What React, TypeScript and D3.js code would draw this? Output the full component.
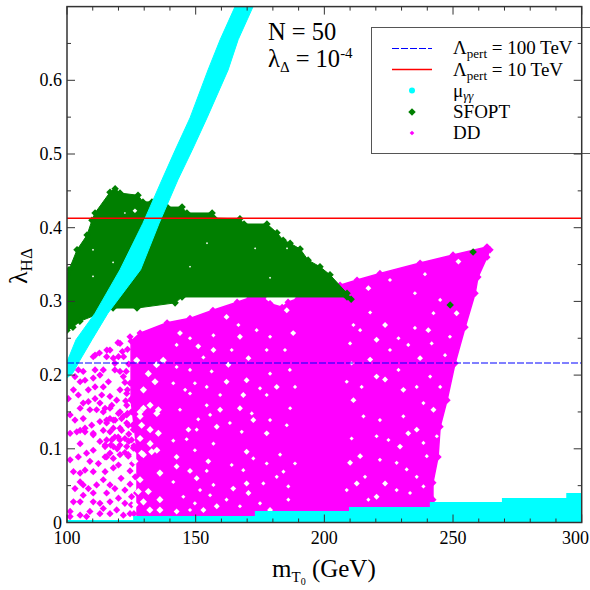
import React from "react";
import * as d3 from "d3";

type P = [number, number];

const xTicksMajor = [100, 150, 200, 250, 300];
const yTicksMajor = [0, 0.1, 0.2, 0.3, 0.4, 0.5, 0.6];
const xTicksMinor = d3.range(100, 301, 10);
const yTicksMinor = [0.05, 0.15, 0.25, 0.35, 0.45, 0.55, 0.65];
const lambda100TeV = 0.2164;
const lambda10TeV = 0.4127;

const sfoptRegion: P[] = [
  [100, 0.261], [100, 0.336], [100.8, 0.343], [103.9, 0.37], [107.8, 0.39], [109.7, 0.41], [110.9, 0.42], [116.7, 0.448], [118.7, 0.453],
  [120.6, 0.447], [127.6, 0.444], [129.5, 0.435], [133, 0.435], [138.9, 0.428], [144.7, 0.428], [146.6, 0.42],
  [156.4, 0.42], [157.1, 0.413], [167.2, 0.412], [168.8, 0.405], [177.7, 0.405], [181.6, 0.393], [184, 0.383],
  [186.7, 0.379], [190.6, 0.371], [193.7, 0.356], [198.3, 0.347], [202.2, 0.336], [208.8, 0.311], [208.8, 0.306],
  [144.7, 0.306], [142, 0.298], [127.2, 0.291], [117.9, 0.291], [105, 0.273], [102.3, 0.265],
];
const sfoptPoints: P[] = [[207.3, 0.311], [210.4, 0.303], [248.9, 0.295], [257.8, 0.367]];
const sfoptGaps: P[] = [
  [126.4, 0.423], [122.5, 0.42], [110.1, 0.334], [110.1, 0.37], [178.9, 0.332], [147.8, 0.347], [154.4, 0.379],
  [185.5, 0.372], [173.1, 0.372], [117.9, 0.353],
];

const muBand: P[] = [
  [100, 0.196], [100, 0.218], [103.5, 0.248], [110.9, 0.284], [120.6, 0.343], [129.5, 0.406], [136.9, 0.465],
  [142, 0.505], [147.8, 0.549], [154.8, 0.614], [159.5, 0.655], [165.3, 0.7], [172.3, 0.7], [166.5, 0.655],
  [162.6, 0.614], [154.4, 0.549], [148.6, 0.505], [143.1, 0.465], [135.8, 0.406], [128.6, 0.343], [115.9, 0.284],
  [109.7, 0.248], [105, 0.22], [102.3, 0.203],
];
const muFloor: P[] = [
  [100, 0.0034], [125.7, 0.0088], [173, 0.0156], [209.6, 0.021], [241, 0.0278], [269, 0.0332], [294, 0.04], [300, 0.04],
];

const ddRegion: P[] = [
  [124.9, 0.246], [128.4, 0.257], [138.9, 0.271], [147.8, 0.277], [156.7, 0.288], [166.1, 0.299], [171.1, 0.305],
  [176.2, 0.305], [178.9, 0.297], [183.6, 0.292], [185.9, 0.299], [189.8, 0.304], [206.1, 0.322], [212.7, 0.329],
  [221.6, 0.338], [237.2, 0.352], [250, 0.363], [263.2, 0.374], [264.4, 0.37], [263.2, 0.36], [259.7, 0.333],
  [258.6, 0.311], [254.7, 0.265], [250.8, 0.216], [247.7, 0.166], [245, 0.13], [244.2, 0.089], [242.2, 0.054],
  [242.2, 0.031], [240.3, 0.021], [240.3, 0.003], [127.2, 0.003], [127.2, 0.098], [124.9, 0.166],
];
const ddPoints: P[] = [
  [110.9, 0.227], [115.5, 0.234], [119.8, 0.244], [124.5, 0.252],
  [110.2, 0.225], [112.6, 0.23], [115.4, 0.225], [118, 0.223], [116.7, 0.234], [120.6, 0.243], [118.6, 0.216],
  [114.1, 0.207], [110.9, 0.207], [106.3, 0.205], [104.4, 0.207], [103.1, 0.198], [105.1, 0.191], [107, 0.193],
  [110.2, 0.196], [112.8, 0.2], [116.1, 0.191], [118.6, 0.207], [120.6, 0.205], [108.3, 0.18], [104.4, 0.173],
  [102.5, 0.18], [100.5, 0.168], [110.9, 0.184], [114.1, 0.184], [113.5, 0.173], [116.7, 0.171], [110.9, 0.168],
  [108.3, 0.164], [106.3, 0.162], [112.8, 0.162], [105.1, 0.155], [108.9, 0.153], [111.5, 0.153], [114.1, 0.15],
  [116.7, 0.155], [103.1, 0.139], [106.3, 0.141], [101.2, 0.146], [107, 0.128], [105.1, 0.125], [109.6, 0.132],
  [112.8, 0.137], [115.4, 0.139], [118, 0.139], [120, 0.148], [121.9, 0.144], [114.1, 0.125], [116.7, 0.123],
  [101.2, 0.121], [110.2, 0.119], [118.6, 0.116], [121.2, 0.125], [123.2, 0.135], [121.9, 0.198], [124.5, 0.189],
  [123.2, 0.175], [120.6, 0.18], [119.3, 0.166], [123.2, 0.159], [125.1, 0.168], [127.7, 0.159],
  [103.8, 0.123], [107, 0.123], [110.2, 0.121], [112.8, 0.11], [105.1, 0.107], [114.8, 0.103], [110.2, 0.098],
  [107.6, 0.094], [104.4, 0.089], [101.2, 0.085], [108.9, 0.083], [112.2, 0.08], [115.4, 0.089], [118, 0.087],
  [102.5, 0.069], [105.1, 0.067], [107, 0.071], [110.2, 0.069], [114.8, 0.069], [118, 0.074], [120, 0.078],
  [105.1, 0.055], [103.1, 0.046], [106.3, 0.051], [114.1, 0.058], [111.5, 0.051], [108.3, 0.046], [116.7, 0.051],
  [110.2, 0.04], [115.4, 0.04], [118.6, 0.046], [102.5, 0.028], [106.3, 0.037], [105.1, 0.028], [112.8, 0.026],
  [110.2, 0.028], [116.7, 0.028], [114.1, 0.019], [120, 0.033], [108.9, 0.015], [105.1, 0.01], [112.8, 0.012],
  [101.2, 0.015], [101.2, 0.008], [107.6, 0.008], [116.7, 0.012], [119.3, 0.017], [122.5, 0.044], [122.5, 0.026],
  [121.9, 0.01], [124.5, 0.012], [125.1, 0.035], [122.5, 0.095], [124, 0.11], [121, 0.06], [124.5, 0.07],
  [126, 0.012], [125, 0.024], [127, 0.04], [124.5, 0.052], [126.5, 0.062], [125.5, 0.08], [123.8, 0.09], [126, 0.104],
  [124, 0.12], [125.5, 0.132], [123.5, 0.148], [125, 0.15], [122.8, 0.165], [123.5, 0.18], [122.5, 0.19], [123, 0.205],
  [124, 0.215], [122, 0.225], [123.5, 0.235], [121.5, 0.232], [120, 0.225], [119.5, 0.1], [117, 0.105], [120.5, 0.112],
  [114.8, 0.155], [117.4, 0.159], [120.6, 0.15], [123.2, 0.146], [125.8, 0.15], [116.7, 0.141], [115.4, 0.135],
  [118.7, 0.139], [121.2, 0.141], [118, 0.128], [120.6, 0.128], [123.8, 0.132], [125.8, 0.126], [115.4, 0.112],
  [117.4, 0.112], [119.9, 0.116], [122.5, 0.114], [125.1, 0.112], [114.8, 0.105], [118, 0.103], [120.6, 0.105],
  [123.2, 0.103], [125.8, 0.101], [116.7, 0.094], [120.6, 0.092], [114.8, 0.089], [123.8, 0.092],
];
const ddGaps: P[] = [
  [162, 0.279], [166.6, 0.268], [142.6, 0.241], [151, 0.239], [153, 0.224], [164, 0.234], [170.5, 0.223],
  [177.6, 0.234], [184.7, 0.234], [185.4, 0.288], [145.9, 0.18], [154.3, 0.184], [162.7, 0.214], [156.2, 0.205],
  [149.7, 0.189], [181.5, 0.184], [188.6, 0.184], [175, 0.182], [162, 0.191], [141.3, 0.189],
  [154.3, 0.159], [159.5, 0.153], [155.6, 0.146], [151, 0.14], [147.2, 0.126], [141.3, 0.111], [167.9, 0.123],
  [172.4, 0.139], [185.4, 0.132], [186.7, 0.155], [167.2, 0.155], [163.3, 0.135], [146.5, 0.113], [169.8, 0.096],
  [172.4, 0.087], [182.8, 0.092], [154.9, 0.083], [164, 0.078], [154.3, 0.07], [147.8, 0.07], [141.3, 0.055],
  [156.9, 0.051], [164.6, 0.046], [186, 0.031], [186, 0.049], [170.5, 0.04], [155.6, 0.037], [149.7, 0.026],
  [142.6, 0.015], [184.1, 0.069], [143.9, 0.153], [150.4, 0.06], [176.3, 0.053],
  [239.1, 0.337], [252.1, 0.354], [217.8, 0.285], [211.3, 0.268], [223.6, 0.268], [228.8, 0.25], [235.2, 0.264],
  [240.4, 0.261], [232.6, 0.241], [210, 0.243], [237.2, 0.223], [246.9, 0.227], [228.8, 0.207], [223.6, 0.194],
  [235.9, 0.184], [214.5, 0.184], [211.3, 0.166], [215.2, 0.144], [224.9, 0.112], [232.6, 0.121], [239.8, 0.09],
  [210.6, 0.114], [229.4, 0.103], [232, 0.072], [215.8, 0.062], [223.6, 0.053], [235.9, 0.062], [217.1, 0.031],
  [212.6, 0.053], [243.7, 0.117],
  [225.5, 0.329], [217.1, 0.318], [235.2, 0.311], [245, 0.302], [251.4, 0.284], [242.4, 0.284], [213.9, 0.261],
  [220.3, 0.248], [225.5, 0.234], [210.6, 0.216], [217.8, 0.221], [241.7, 0.243], [248.8, 0.252], [220.3, 0.198],
  [241.1, 0.198], [245, 0.184], [230.7, 0.18], [208.7, 0.191], [238.5, 0.162], [242.4, 0.153], [230.7, 0.144],
  [221.6, 0.139], [235.9, 0.126], [220.3, 0.117], [238.5, 0.108], [213.9, 0.09], [221.6, 0.085], [228.1, 0.081],
  [210, 0.081], [238.5, 0.049], [228.1, 0.044], [220.3, 0.035], [208.7, 0.044], [233.3, 0.04],
  [143.9, 0.257], [147.8, 0.25], [156.9, 0.254], [167.2, 0.252], [173.7, 0.261], [178.9, 0.252], [187.9, 0.257],
  [142.6, 0.211], [147.8, 0.207], [169.8, 0.193], [178.9, 0.202], [186.6, 0.207], [156.9, 0.234], [147.8, 0.175],
  [159.5, 0.173], [168.5, 0.173], [177.6, 0.173],
  [150.4, 0.126], [158.2, 0.13], [171.8, 0.148], [178.9, 0.139], [142.6, 0.089], [149.7, 0.098], [156.9, 0.107],
  [177.6, 0.121], [188.6, 0.08], [177.6, 0.08], [142.6, 0.076], [168.5, 0.071], [181.5, 0.062], [169.8, 0.053],
  [151.7, 0.044], [145.2, 0.035], [158.2, 0.022], [167.2, 0.022], [175, 0.026], [178.9, 0.017], [147.8, 0.017],
  [162, 0.031], [153, 0.017],
];
const ddWideGaps: P[] = [
  [126.4, 0.083], [129.7, 0.092], [132.9, 0.096], [136.1, 0.067], [128.4, 0.058], [131.6, 0.042], [127.7, 0.042],
  [136.1, 0.031], [129.7, 0.028], [126.4, 0.024], [136.1, 0.017], [132.2, 0.017],
  [131.6, 0.202], [129.7, 0.18], [135.5, 0.153], [128.4, 0.144], [134.2, 0.191], [137.4, 0.22],
  [134.8, 0.214], [127.1, 0.22], [129.7, 0.155],
  [128.4, 0.15], [132.3, 0.159], [134.9, 0.148], [129, 0.132], [132.3, 0.126], [135.5, 0.121], [128.4, 0.114],
  [132.3, 0.107], [134.9, 0.098], [129, 0.094],
];

const FONT = '"Liberation Serif"';
const SIZE = 590;
const x = d3.scaleLinear().domain([100, 300]).range([67, 581.7]);
const y = d3.scaleLinear().domain([0, 0.7]).range([522.5, 6.6]);

const polygon = d3.line<P>().x((d) => x(d[0])).y((d) => y(d[1])).curve(d3.curveLinearClosed);
const floorArea = d3.area<P>().x((d) => x(d[0])).y0(y(0)).y1((d) => y(d[1])).curve(d3.curveStepAfter);
const diamond = (size: number) => d3.symbol().type(d3.symbolDiamond2).size(size)() as string;

const MAGENTA = "#ff00ff";
const GREEN = "#007f00";
const CYAN = "#00ffff";

export default function App() {
  const sub = { fontSize: 13 };
  return (
    <svg width={SIZE} height={SIZE} style={{ position: "absolute", left: 0, top: 0, background: "#fff", fontFamily: FONT }} fill="#000">
      <defs>
        <clipPath id="plot">
          <rect x={x(100)} y={y(0.7)} width={x(300) - x(100)} height={y(0) - y(0.7)} />
        </clipPath>
      </defs>
      <g clipPath="url(#plot)">
        <path d={polygon(ddRegion) as string} fill={MAGENTA} stroke={MAGENTA} strokeWidth={1.5} strokeLinejoin="round" />
        {ddRegion.concat(ddPoints).map((d, i) => (
          <path key={i} d={diamond(33)} transform={`translate(${x(d[0])},${y(d[1])})`} fill={MAGENTA} />
        ))}
        {ddGaps.map((d, i) => (
          <path key={i} d={diamond(i % 3 === 0 ? 22 : 11)} transform={`translate(${x(d[0])},${y(d[1])})`} fill="#fff" />
        ))}
        {ddWideGaps.map((d, i) => (
          <path key={i} d={diamond(32)} transform={`translate(${x(d[0])},${y(d[1])})`} fill="#fff" />
        ))}
        <path d={polygon(sfoptRegion) as string} fill={GREEN} stroke={GREEN} strokeWidth={1} strokeLinejoin="round" />
        {sfoptRegion.concat(sfoptPoints).map((d, i) => (
          <path key={i} d={diamond(36)} transform={`translate(${x(d[0])},${y(d[1])})`} fill={GREEN} />
        ))}
        {sfoptGaps.map((d, i) => (
          <path key={i} d={diamond(i === 0 ? 14 : 3)} transform={`translate(${x(d[0])},${y(d[1])})`} fill="#fff" />
        ))}
        <path d={polygon(muBand) as string} fill={CYAN} stroke={CYAN} strokeWidth={1} />
        <path d={floorArea(muFloor) as string} fill={CYAN} />
      </g>

      <line x1={x(100)} x2={x(300)} y1={y(lambda100TeV)} y2={y(lambda100TeV)} stroke="#0000ff" strokeWidth={1} strokeDasharray="7 2" />
      <line x1={x(100)} x2={x(300)} y1={y(lambda10TeV)} y2={y(lambda10TeV)} stroke="#ff0000" strokeWidth={1.5} />

      {/* legend */}
      <rect x={371.5} y={27.5} width={240} height={126} fill="#fff" stroke="#555" strokeWidth={1} />
      <line x1={392} x2={432} y1={48.5} y2={48.5} stroke="#0000ff" strokeWidth={1} strokeDasharray="7 2" />
      <line x1={392} x2={432} y1={69.5} y2={69.5} stroke="#ff0000" strokeWidth={1.5} />
      <circle cx={412} cy={90.5} r={3} fill={CYAN} />
      <path d={diamond(36)} transform="translate(412,112)" fill={GREEN} />
      <path d={diamond(14)} transform="translate(412,133)" fill={MAGENTA} />
      <g fontSize={19}>
        <text x={453} y={54}>Λ<tspan dy={4} style={sub}>pert</tspan><tspan dy={-4}> = 100 TeV</tspan></text>
        <text x={453} y={76}>Λ<tspan dy={4} style={sub}>pert</tspan><tspan dy={-4}> = 10 TeV</tspan></text>
        <text x={453} y={97}>μ<tspan dy={3} fontStyle="italic" style={sub}>γγ</tspan></text>
        <text x={453} y={118}>SFOPT</text>
        <text x={453} y={139}>DD</text>
      </g>

      {/* frame and ticks */}
      <rect x={x(100)} y={y(0.7)} width={x(300) - x(100)} height={y(0) - y(0.7)} fill="none" stroke="#333" strokeWidth={1.5} />
      <g stroke="#333" strokeWidth={1}>
        {xTicksMinor.map((t) => {
          const len = t % 50 === 0 ? 8 : 4;
          return (
            <g key={t}>
              <line x1={x(t)} x2={x(t)} y1={y(0)} y2={y(0) - len} />
              <line x1={x(t)} x2={x(t)} y1={y(0.7)} y2={y(0.7) + len} />
            </g>
          );
        })}
        {yTicksMajor.map((t) => (
          <g key={t}>
            <line x1={x(100)} x2={x(100) + 8} y1={y(t)} y2={y(t)} />
            <line x1={x(300)} x2={x(300) - 8} y1={y(t)} y2={y(t)} />
          </g>
        ))}
        {yTicksMinor.map((t) => (
          <g key={t}>
            <line x1={x(100)} x2={x(100) + 4} y1={y(t)} y2={y(t)} />
            <line x1={x(300)} x2={x(300) - 4} y1={y(t)} y2={y(t)} />
          </g>
        ))}
      </g>
      <g fontSize={18}>
        {xTicksMajor.map((t) => (
          <text key={t} x={Math.min(x(t), 575.5)} y={544} textAnchor="middle">{t}</text>
        ))}
        {yTicksMajor.map((t) => (
          <text key={t} x={62} y={y(t) + 6} textAnchor="end">{t}</text>
        ))}
      </g>

      <text x={272} y={577} fontSize={25}>m<tspan dy={5} fontSize={15}>T</tspan><tspan dy={3} fontSize={10}>0</tspan><tspan dy={-8}> (GeV)</tspan></text>
      <text transform="translate(27,284) rotate(-90)" fontSize={26}>λ<tspan dy={5} fontSize={17}>HΔ</tspan></text>
      <text x={268} y={40} fontSize={24.5}>N = 50</text>
      <text x={268} y={67} fontSize={24.5}>λ<tspan dy={5} fontSize={15}>Δ</tspan><tspan dy={-5}> = 10</tspan><tspan dy={-9} fontSize={15}>-4</tspan></text>
    </svg>
  );
}
